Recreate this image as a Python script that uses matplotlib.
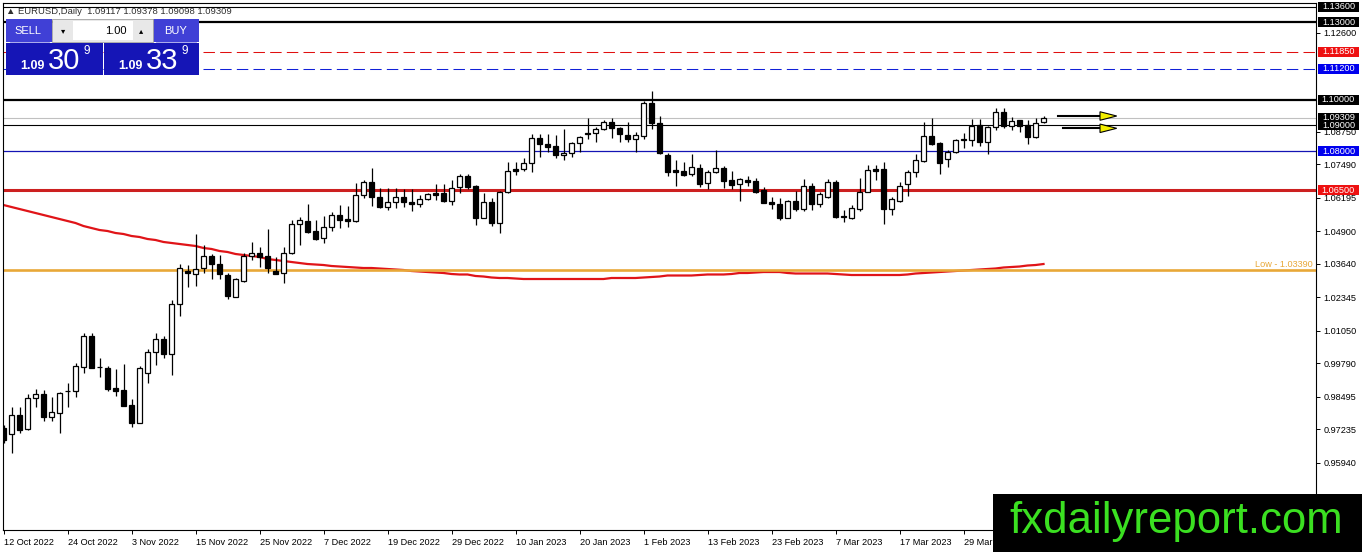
import matplotlib
matplotlib.use("Agg")
import matplotlib.pyplot as plt
from matplotlib.patches import Rectangle, Polygon

plt.rcParams['font.family'] = ['Liberation Sans', 'DejaVu Sans']

# daily EURUSD candles, 12 Oct 2022 .. 12 Apr 2023
opens = [
    0.97284, 0.97051, 0.97787, 0.97245, 0.98446, 0.98601, 0.97710, 0.97865, 0.98710, 0.98717,
    0.99646, 1.00847, 0.99646, 0.99607, 0.98833, 0.98756, 0.98174, 0.97478, 0.99414, 1.00228,
    1.00731, 1.00150, 1.02086, 1.03364, 1.03248, 1.03480, 1.03946, 1.03635, 1.03209, 1.02357,
    1.02977, 1.03946, 1.04062, 1.03946, 1.03364, 1.03287, 1.04062, 1.05184, 1.05300, 1.04913,
    1.04643, 1.05068, 1.05533, 1.05378, 1.05300, 1.06307, 1.06811, 1.06230, 1.05843, 1.06037,
    1.06230, 1.06037, 1.05959, 1.06153, 1.06385, 1.06385, 1.06075, 1.06618, 1.07044, 1.06656,
    1.05416, 1.06037, 1.05223, 1.06424, 1.07314, 1.07314, 1.07547, 1.08515, 1.08283, 1.08206,
    1.07857, 1.07934, 1.08321, 1.08709, 1.08709, 1.08864, 1.09135, 1.08903, 1.08632, 1.08476,
    1.08593, 1.09871, 1.09096, 1.07857, 1.07276, 1.07237, 1.07121, 1.07353, 1.06773, 1.07198,
    1.07353, 1.06889, 1.06734, 1.06889, 1.06850, 1.06501, 1.06037, 1.05959, 1.05416, 1.06075,
    1.05766, 1.06656, 1.05959, 1.06230, 1.06811, 1.05494, 1.05416, 1.05766, 1.06424, 1.07314,
    1.07314, 1.05766, 1.06075, 1.06734, 1.07198, 1.07624, 1.08593, 1.08321, 1.07702, 1.07973,
    1.08438, 1.08438, 1.09019, 1.08360, 1.08941, 1.09522, 1.08980, 1.09212, 1.09019, 1.08554,
    1.09117,
]
highs = [
    0.97400, 0.98097, 0.98097, 0.98601, 0.98794, 0.98756, 0.98485, 0.98679, 0.99027, 0.99801,
    1.00963, 1.00963, 0.99994, 0.99685, 0.99568, 0.99762, 0.98407, 0.99685, 1.00344, 1.00963,
    1.00847, 1.02241, 1.03635, 1.03596, 1.04797, 1.04371, 1.04023, 1.03984, 1.03287, 1.03093,
    1.04062, 1.04488, 1.04294, 1.04991, 1.03907, 1.04294, 1.05339, 1.05455, 1.05959, 1.05339,
    1.05494, 1.05650, 1.05920, 1.05881, 1.06773, 1.06889, 1.07353, 1.06579, 1.06579, 1.06579,
    1.06540, 1.06540, 1.06307, 1.06385, 1.06734, 1.06734, 1.06889, 1.07121, 1.07121, 1.06695,
    1.06385, 1.06191, 1.06462, 1.07586, 1.07586, 1.07740, 1.08670, 1.08670, 1.08670, 1.08632,
    1.08864, 1.08360, 1.08593, 1.09290, 1.08941, 1.09212, 1.09290, 1.08941, 1.09135, 1.08748,
    1.09948, 1.10336, 1.09367, 1.07934, 1.07663, 1.07586, 1.07896, 1.07508, 1.07276, 1.08050,
    1.07431, 1.07237, 1.06966, 1.07044, 1.06966, 1.06618, 1.06230, 1.06191, 1.06114, 1.06462,
    1.06927, 1.06773, 1.06424, 1.06927, 1.06889, 1.05727, 1.05920, 1.06966, 1.07469, 1.07469,
    1.07586, 1.06230, 1.06811, 1.07276, 1.07896, 1.09135, 1.09290, 1.08360, 1.08050, 1.08476,
    1.08709, 1.09251, 1.09251, 1.08980, 1.09677, 1.09677, 1.09329, 1.09215, 1.09212, 1.09290,
    1.09378,
]
lows = [
    0.96703, 0.96316, 0.97090, 0.97206, 0.98097, 0.97555, 0.97555, 0.97090, 0.98097, 0.98485,
    0.99414, 0.99607, 0.99259, 0.98717, 0.98524, 0.98136, 0.97323, 0.97460, 0.99027, 0.99723,
    0.99994, 0.99336, 1.01622, 1.02745, 1.02784, 1.03287, 1.03054, 1.03054, 1.02279, 1.02340,
    1.02938, 1.03790, 1.03519, 1.03287, 1.03248, 1.02900, 1.04023, 1.04371, 1.04836, 1.04565,
    1.04449, 1.04913, 1.05029, 1.05068, 1.05262, 1.06191, 1.05882, 1.05804, 1.05727, 1.05804,
    1.05843, 1.05688, 1.05843, 1.06114, 1.06114, 1.06037, 1.05920, 1.06385, 1.06540, 1.05145,
    1.05410, 1.05106, 1.04836, 1.06385, 1.07082, 1.07237, 1.07198, 1.07779, 1.07973, 1.07740,
    1.07663, 1.07779, 1.07973, 1.08476, 1.08360, 1.08825, 1.08515, 1.08360, 1.08360, 1.07973,
    1.08476, 1.08864, 1.07896, 1.07044, 1.06656, 1.07044, 1.07044, 1.06618, 1.06540, 1.07160,
    1.06579, 1.06540, 1.06075, 1.06656, 1.06385, 1.05990, 1.05766, 1.05339, 1.05410, 1.05688,
    1.05688, 1.05727, 1.05843, 1.06191, 1.05416, 1.05262, 1.05378, 1.05688, 1.06420, 1.06889,
    1.05184, 1.05533, 1.06037, 1.06268, 1.07005, 1.07586, 1.08244, 1.07121, 1.07392, 1.07934,
    1.08128, 1.08206, 1.08206, 1.07896, 1.08825, 1.08903, 1.08825, 1.08748, 1.08283, 1.08515,
    1.09098,
]
closes = [
    0.96819, 0.97787, 0.97206, 0.98446, 0.98601, 0.97710, 0.97904, 0.98640, 0.98725, 0.99685,
    1.00847, 0.99607, 0.99640, 0.98794, 0.98717, 0.98136, 0.97478, 0.99607, 1.00228, 1.00731,
    1.00150, 1.02086, 1.03480, 1.03287, 1.03442, 1.03946, 1.03635, 1.03248, 1.02396, 1.03054,
    1.03946, 1.04062, 1.03907, 1.03480, 1.03260, 1.04062, 1.05184, 1.05339, 1.04875, 1.04604,
    1.05068, 1.05533, 1.05339, 1.05300, 1.06307, 1.06811, 1.06230, 1.05843, 1.06037, 1.06230,
    1.06037, 1.05959, 1.06153, 1.06346, 1.06307, 1.06075, 1.06579, 1.07044, 1.06618, 1.05416,
    1.06037, 1.05223, 1.06424, 1.07237, 1.07237, 1.07547, 1.08515, 1.08283, 1.08167, 1.07857,
    1.07934, 1.08321, 1.08554, 1.08670, 1.08864, 1.09135, 1.08903, 1.08670, 1.08476, 1.08632,
    1.09871, 1.09096, 1.07934, 1.07198, 1.07198, 1.07082, 1.07392, 1.06734, 1.07198, 1.07353,
    1.06850, 1.06695, 1.06927, 1.06811, 1.06424, 1.06000, 1.05959, 1.05416, 1.06075, 1.05766,
    1.06656, 1.05959, 1.06346, 1.06811, 1.05455, 1.05455, 1.05804, 1.06424, 1.07276, 1.07237,
    1.05766, 1.06153, 1.06656, 1.07198, 1.07663, 1.08593, 1.08283, 1.07547, 1.07973, 1.08438,
    1.08476, 1.08980, 1.08360, 1.08941, 1.09522, 1.08980, 1.09174, 1.08980, 1.08554, 1.09096,
    1.09309,
]
# moving average (red curve)
ma_line = [
    1.05920, 1.05843, 1.05766, 1.05688, 1.05610, 1.05533, 1.05455, 1.05378, 1.05300, 1.05223,
    1.05106, 1.05029, 1.04952, 1.04913, 1.04836, 1.04797, 1.04720, 1.04681, 1.04604, 1.04565,
    1.04488, 1.04449, 1.04410, 1.04371, 1.04333, 1.04255, 1.04217, 1.04139, 1.04100, 1.04023,
    1.03984, 1.03946, 1.03907, 1.03829, 1.03790, 1.03752, 1.03713, 1.03674, 1.03635, 1.03616,
    1.03596, 1.03558, 1.03538, 1.03519, 1.03500, 1.03480, 1.03480, 1.03461, 1.03442, 1.03422,
    1.03403, 1.03364, 1.03345, 1.03325, 1.03306, 1.03287, 1.03248, 1.03229, 1.03229, 1.03171,
    1.03151, 1.03113, 1.03093, 1.03093, 1.03074, 1.03054, 1.03054, 1.03054, 1.03054, 1.03054,
    1.03054, 1.03054, 1.03054, 1.03054, 1.03054, 1.03054, 1.03093, 1.03093, 1.03093, 1.03093,
    1.03113, 1.03132, 1.03151, 1.03190, 1.03190, 1.03190, 1.03190, 1.03209, 1.03229, 1.03229,
    1.03229, 1.03248, 1.03287, 1.03287, 1.03306, 1.03325, 1.03325, 1.03325, 1.03287, 1.03267,
    1.03267, 1.03267, 1.03267, 1.03267, 1.03248, 1.03229, 1.03209, 1.03209, 1.03209, 1.03209,
    1.03209, 1.03209, 1.03209, 1.03229, 1.03267, 1.03287, 1.03306, 1.03325, 1.03345, 1.03364,
    1.03384, 1.03403, 1.03422, 1.03442, 1.03461, 1.03500, 1.03519, 1.03538, 1.03577, 1.03596,
    1.03635,
]

date_labels = ['12 Oct 2022', '24 Oct 2022', '3 Nov 2022', '15 Nov 2022', '25 Nov 2022',
               '7 Dec 2022', '19 Dec 2022', '29 Dec 2022', '10 Jan 2023', '20 Jan 2023',
               '1 Feb 2023', '13 Feb 2023', '23 Feb 2023', '7 Mar 2023', '17 Mar 2023',
               '29 Mar 2023']
bars_per_label = 8

price_ticks = [1.12600, 1.08750, 1.07490, 1.06195, 1.04900, 1.03640, 1.02345,
               1.01050, 0.99790, 0.98495, 0.97235, 0.95940]

# horizontal levels drawn on the chart
level_prices = [1.13600, 1.13000, 1.11850, 1.11200, 1.10000, 1.09000, 1.08000, 1.06500]
low_level = 1.03390

W, H = 1362, 552
fig = plt.figure(figsize=(W / 100, H / 100), dpi=100)
fig.patch.set_facecolor('white')
ax = fig.add_axes([3 / W, 22 / H, 1313 / W, 527 / H])
ax.set_xlim(-0.0625, 164.06)
ax.set_ylim(0.93333, 1.13744)

# level lines
level_style = {
    1.13600: dict(color='black', lw=0.8),
    1.13000: dict(color='black', lw=1.6),
    1.11850: dict(color='#e01010', lw=0.75, ls=(0, (11, 5))),
    1.11200: dict(color='#1020d8', lw=0.75, ls=(0, (11, 5))),
    1.10000: dict(color='black', lw=1.6),
    1.09000: dict(color='black', lw=0.8),
    1.08000: dict(color='#1414b4', lw=0.9),
    1.06500: dict(color='#cc2020', lw=2.2),
}
for p in level_prices:
    ax.axhline(p, zorder=2, **level_style[p])
ax.axhline(closes[-1], color='#c0c0c0', lw=0.8, zorder=2)

ax.plot(range(len(ma_line)), ma_line, color='#e01418', lw=1.6, zorder=2.1)
ax.axhline(low_level, color='#e8a838', lw=1.9, zorder=2.2)
ax.text(0.9977, low_level + 0.0004, f'Low - {low_level:.5f}', color='#e8a838',
        fontsize=6.6, ha='right', va='bottom', transform=ax.get_yaxis_transform())

# candles
idx = list(range(len(opens)))
bottoms = [min(o, c) for o, c in zip(opens, closes)]
heights = [max(abs(c - o), 0.00002) for o, c in zip(opens, closes)]
faces = ['white' if c >= o else 'black' for o, c in zip(opens, closes)]
ax.vlines(idx, lows, highs, color='black', lw=0.9, zorder=3)
ax.bar(idx, heights, bottom=bottoms, width=0.55, color=faces, edgecolor='black',
       linewidth=0.9, zorder=4)

# arrows pointing at the 1.09 / 1.093 area
for y0, x0 in [(1.09367, 131.85), (1.08891, 132.4)]:
    ax.plot([x0, 137.06], [y0, y0], color='black', lw=1.5, zorder=5)
    ax.add_patch(Polygon([(137.06, y0 + 0.00165), (137.06, y0 - 0.00165), (139.15, y0)],
                         closed=True, fc='#f2ee00', ec='black', lw=0.8, zorder=6))

# axes look
for s in ax.spines.values():
    s.set_color('black')
    s.set_linewidth(0.8)
ax.yaxis.tick_right()
ax.set_yticks(price_ticks)
ax.set_yticklabels([f'{p:.5f}' for p in price_ticks])
ax.tick_params(axis='y', length=3, width=0.7, pad=2.5, labelsize=6.6, colors='black')
ax.set_xticks(range(0, bars_per_label * len(date_labels), bars_per_label))
ax.set_xticklabels(date_labels, ha='left')
ax.tick_params(axis='x', length=3, width=0.7, pad=2.5, labelsize=6.6)

# coloured price boxes on the right scale
box_specs = [(1.13600, 'black'), (1.13000, 'black'), (1.11850, '#ee1111'),
             (1.11200, '#0000ee'), (1.10000, 'black'), (closes[-1], 'black'),
             (1.09000, 'black'), (1.08000, '#0000ee'), (1.06500, '#ee1111')]
ytr = ax.get_yaxis_transform()
for p, col in box_specs:
    ax.add_patch(Rectangle((1.0015, p - 0.0019), 41 / 1313, 0.0038, transform=ytr,
                           clip_on=False, fc=col, ec='none', zorder=7))
    ax.text(1.0171, p, f'{p:.5f}', transform=ytr, clip_on=False, color='white',
            fontsize=6.6, ha='center', va='center', zorder=8)

# overlay in pixel space for the trading panel and the watermark
ov = fig.add_axes([0, 0, 1, 1], zorder=10)
ov.set_xlim(0, W)
ov.set_ylim(H, 0)
ov.axis('off')

ov.text(6, 11, f'\u25b2 EURUSD,Daily  {opens[-1]:.5f} {highs[-1]:.5f} {lows[-1]:.5f} {closes[-1]:.5f}',
        fontsize=6.8, color='#303030', va='center', ha='left')

btn = '#4040d6'
box = '#1515b6'
ov.add_patch(Rectangle((6, 19), 46, 23, fc=btn, ec='none'))
ov.add_patch(Rectangle((153, 19), 46, 23, fc=btn, ec='none'))
ov.add_patch(Rectangle((52, 19), 101, 23, fc='#e8e8e8', ec='#a0a0a0', lw=0.6))
ov.add_patch(Rectangle((73, 21), 60, 19, fc='white', ec='none'))
ov.plot([10, 49], [41.5, 41.5], color='#9a9ae8', lw=0.6)
ov.plot([156, 196], [41.5, 41.5], color='#9a9ae8', lw=0.6)
ov.text(28, 30.5, 'SELL', color='white', fontsize=8, ha='center', va='center')
ov.text(176, 30.5, 'BUY', color='white', fontsize=8, ha='center', va='center')
ov.text(63, 30.5, '\u25be', color='black', fontsize=6, ha='center', va='center',
        family=['DejaVu Sans'])
ov.text(141, 30.5, '\u25b4', color='black', fontsize=6, ha='center', va='center',
        family=['DejaVu Sans'])
ov.text(127, 30.5, '1.00', color='black', fontsize=8, ha='right', va='center')

for bx, big in [(6, '30'), (104, '33')]:
    ov.add_patch(Rectangle((bx, 43), 97 if bx == 6 else 95, 32, fc=box, ec='none'))
    ov.text(bx + 26, 66, '1.09', color='white', fontsize=9, fontweight='bold',
            ha='center', va='center')
    ov.text(bx + 58, 61, big, color='white', fontsize=21, ha='center', va='center')
    ov.text(bx + 81, 51, '9', color='white', fontsize=8.5, ha='center', va='center')

ov.add_patch(Rectangle((993, 494), W - 993, H - 494, fc='black', ec='none'))
ov.text(1176, 522, 'fxdailyreport.com', color='#3be021', fontsize=31.5,
        ha='center', va='center')

fig.savefig('out.png', dpi=100)
